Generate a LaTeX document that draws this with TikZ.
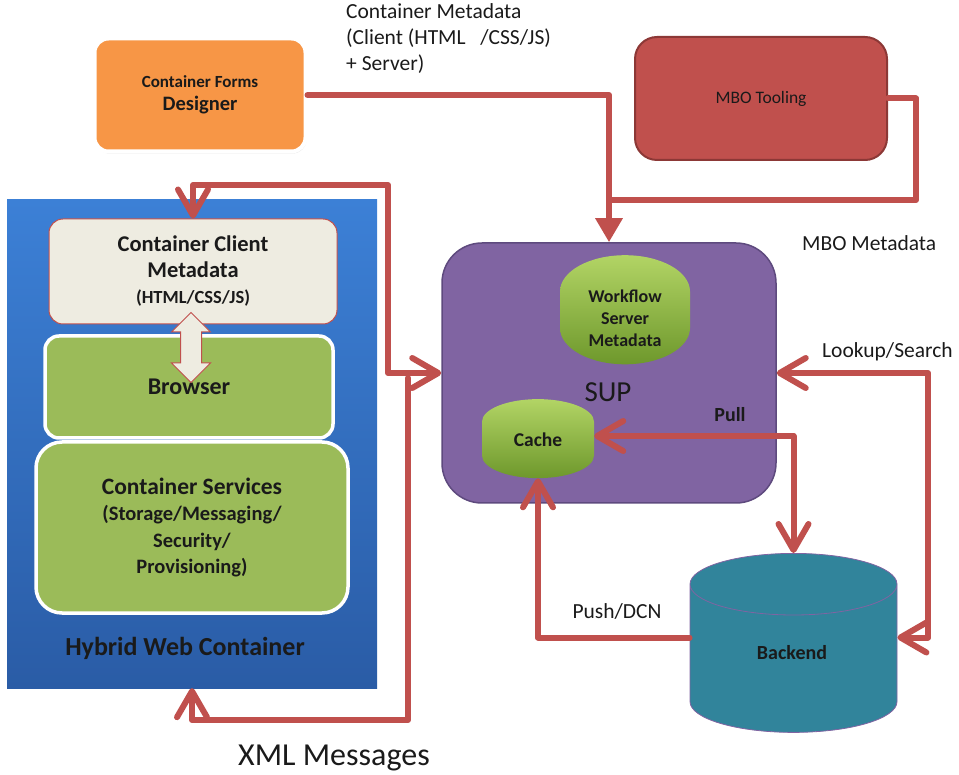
\documentclass[tikz,border=0pt]{standalone}
\usepackage{fontspec}
\setmainfont{Carlito}
\usetikzlibrary{shapes.geometric,shapes.arrows,arrows.meta,shadows}

\definecolor{linkred}{HTML}{C0504D}
\definecolor{toolred}{HTML}{C0504D}
\definecolor{toolrim}{HTML}{8C3836}
\definecolor{supviolet}{HTML}{8064A2}
\definecolor{suprim}{HTML}{5E4A7E}
\definecolor{formorange}{HTML}{F79646}
\definecolor{paper}{HTML}{EEECE1}
\definecolor{leafgreen}{HTML}{9BBB59}
\definecolor{leaftop}{HTML}{B2D465}
\definecolor{leafbottom}{HTML}{6E982C}
\definecolor{hwctop}{HTML}{3C80D6}
\definecolor{hwcbottom}{HTML}{2A5CA6}
\definecolor{backteal}{HTML}{31849B}
\definecolor{ink}{HTML}{1A1A1A}

% empty box of fixed width: sets how deep the cylinder ends are
\newcommand{\slim}[1]{\makebox[#1]{}}

\tikzset{
  barb/.tip={Straight Barb[length=26pt,width=30pt,round]},
  drop/.tip={Triangle[length=24pt,width=26pt]},
  link/.style={draw=linkred, line width=6pt, line cap=round, line join=round},
  note/.style={font=\fontsize{21.5}{26}\selectfont, text=ink, inner sep=0pt, align=left},
  box/.style={rounded corners=14pt, inner sep=0pt, align=center, text=ink},
  panel/.style={box, fill=leafgreen, draw=white, line width=3.5pt},
  store/.style={cylinder, shape border rotate=90, aspect=1.1, inner sep=0pt},
  storetext/.style={align=center, text=ink, inner sep=0pt, font=\fontsize{18}{22}\selectfont\bfseries}
}

\begin{document}
\begin{tikzpicture}[x=1pt, y=-1pt]
    \useasboundingbox (0,0) rectangle (959,775);

    % Hybrid web container
    \node[top color=hwctop, bottom color=hwcbottom, minimum width=370pt, minimum height=488pt,
          inner sep=0pt] (hwc) at (192,444) {};
    \node[font=\fontsize{26}{28}\selectfont\bfseries, text=ink] (hwclabel) at (185,648) {Hybrid Web Container};

    \node[box, fill=paper, draw=linkred, line width=1pt, minimum width=288pt, minimum height=105pt,
          font=\fontsize{22.5}{26}\selectfont\bfseries] (clientmeta) at (193,271.5)
        {Container Client\\Metadata\\{\fontsize{18.5}{22}\selectfont (HTML/CSS/JS)}};
    \node[panel, minimum width=288pt, minimum height=102pt,
          font=\fontsize{24}{26}\selectfont\bfseries] (browser) at (189,387) {Browser};
    \node[panel, rounded corners=26pt, minimum width=312pt, minimum height=171pt,
          font=\fontsize{20.5}{26.5}\selectfont\bfseries] (services) at (192,527.5)
        {{\fontsize{23.5}{26.5}\selectfont Container Services}\\(Storage/Messaging/\\Security/\\Provisioning)};
    \node[double arrow, rotate=90, fill=paper, draw=linkred, line width=1pt, inner sep=0pt, inner ysep=10pt,
          minimum height=70pt, minimum width=38pt, double arrow head extend=9pt] (swap) at (191,347.5) {};

    % Designer and tooling
    \node[box, fill=formorange, draw=white, line width=4pt, minimum width=211pt, minimum height=113pt,
          drop shadow={opacity=0.25, shadow xshift=1pt, shadow yshift=-2pt},
          font=\fontsize{17}{23}\selectfont\bfseries] (designer) at (200,95)
        {Container Forms\\{\fontsize{20.5}{23}\selectfont Designer}};
    \node[box, rounded corners=22pt, fill=toolred, draw=toolrim, line width=2pt, minimum width=252pt,
          minimum height=123pt, font=\fontsize{17.5}{20}\selectfont] (tooling) at (761,98.5) {MBO Tooling};

    % SUP server
    \node[box, rounded corners=40pt, fill=supviolet, draw=suprim, line width=1.5pt,
          minimum width=334pt, minimum height=260pt] (sup) at (609,373) {};
    \node[font=\fontsize{29}{30}\selectfont, text=ink] (suplabel) at (608,392) {SUP};
    \node[store, top color=leaftop, bottom color=leafbottom, minimum width=130pt, minimum height=108pt]
        (workflow) at (625,328) {\slim{66pt}};
    \node[storetext] (workflowtext) at (625,318) {Workflow\\Server\\Metadata};
    \node[store, top color=leaftop, bottom color=leafbottom, minimum width=112pt, minimum height=79pt]
        (cache) at (538,450) {\slim{41pt}};
    \node[storetext, font=\fontsize{19.5}{22}\selectfont\bfseries] (cachetext) at (538,440) {Cache};
    \node[store, fill=backteal, draw=supviolet, line width=0.8pt, minimum width=207pt, minimum height=179pt]
        (backend) at (793.5,658.5) {\slim{56pt}};
    \node[storetext, font=\fontsize{20}{22}\selectfont\bfseries] (backendtext) at (792,653) {Backend};

    % Connectors
    \coordinate (mboy) at (0,200);
    \coordinate (xmltop) at (388,185);
    \coordinate (xmlfork) at (408,378);
    \coordinate (xmlfoot) at (408,720);
    \coordinate (lookx) at (928,0);

    \draw[link, -drop] (designer.east) -| (sup.north);
    \draw[link] (tooling.east) -- ++(28,0) |- (sup.north |- mboy);
    \draw[link, barb-barb] (clientmeta.north) |- (xmltop) |- (sup.west);
    \draw[link, -barb] (xmlfork) -- (xmlfoot) -| (hwc.south);
    \draw[link, barb-barb] ([yshift=14pt]cache.east) -| (backend.north);
    \draw[link, barb-barb] (sup.east) -- (sup.east -| lookx) |- ([yshift=21pt]backend.east);
    \draw[link, -barb] ([yshift=21pt]backend.west) -| (cache.south);

    % Labels
    \node[note, anchor=north west] (metalabel) at (346,3)
        {Container Metadata\\(Client (HTML\ \ \ /CSS/JS)\\+ Server)};
    \node[note, anchor=west] (mbolabel) at (802,243) {MBO Metadata};
    \node[note, anchor=west] (lookuplabel) at (822,352) {Lookup/Search};
    \node[note] (pushlabel) at (617,611) {Push/DCN};
    \node[font=\fontsize{20}{22}\selectfont\bfseries, text=ink] (pulllabel) at (730,415) {Pull};
    \node[note, font=\fontsize{32}{34}\selectfont] (xmllabel) at (334,758) {XML Messages};
\end{tikzpicture}
\end{document}
